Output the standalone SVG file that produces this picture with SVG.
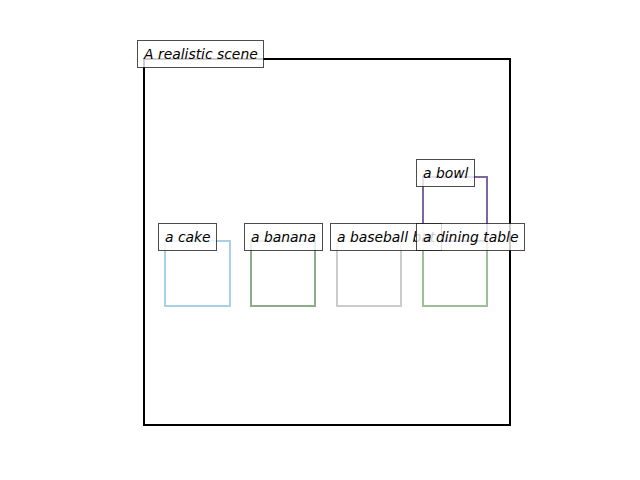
<svg xmlns="http://www.w3.org/2000/svg" width="640" height="480" viewBox="0 0 640 480">
<style>
.box{fill:none;stroke-width:2}
.lbl rect{fill:#ffffff;fill-opacity:0.8;stroke:#000000;stroke-opacity:0.7;stroke-width:1}
.lbl text{font-family:"DejaVu Sans",sans-serif;font-style:italic;font-size:13.9px;fill:#000000}
</style>
<rect width="640" height="480" fill="#ffffff"/>
<g id="scene">
<rect x="144" y="59" width="366" height="366" fill="none" stroke="#000000" stroke-width="2"/>
</g>
<g id="cake"><rect class="box" x="165" y="241" width="65" height="65" stroke="#a6d1e6"/></g>
<g id="banana"><rect class="box" x="251" y="241" width="64" height="65" stroke="#8fab8a"/></g>
<g id="baseball-bat"><rect class="box" x="337" y="241" width="64" height="65" stroke="#cccccc"/></g>
<g id="dining-table"><rect class="box" x="423" y="241" width="64" height="65" stroke="#9dbf98"/></g>
<g id="bowl"><rect class="box" x="423" y="177" width="64" height="64" stroke="#7f66a0"/></g>
<g id="connectors"></g>
<g id="labels">
<g id="label-scene" class="lbl"><rect x="137.5" y="40.5" width="126" height="27"/><text x="144" y="58.5">A realistic scene</text></g>
<g id="label-cake" class="lbl"><rect x="158.5" y="223.5" width="58" height="27"/><text x="165" y="241.5">a cake</text></g>
<g id="label-banana" class="lbl"><rect x="244.5" y="223.5" width="78" height="27"/><text x="251" y="241.5">a banana</text></g>
<g id="label-baseball-bat" class="lbl"><rect x="330.5" y="223.5" width="111" height="27"/><text x="337" y="241.5">a baseball bat</text></g>
<g id="label-dining-table" class="lbl"><rect x="416.5" y="223.5" width="108" height="27"/><text x="423" y="241.5">a dining table</text></g>
<g id="label-bowl" class="lbl"><rect x="416.5" y="159.5" width="58" height="27"/><text x="423" y="177.5">a bowl</text></g>
</g>
</svg>
